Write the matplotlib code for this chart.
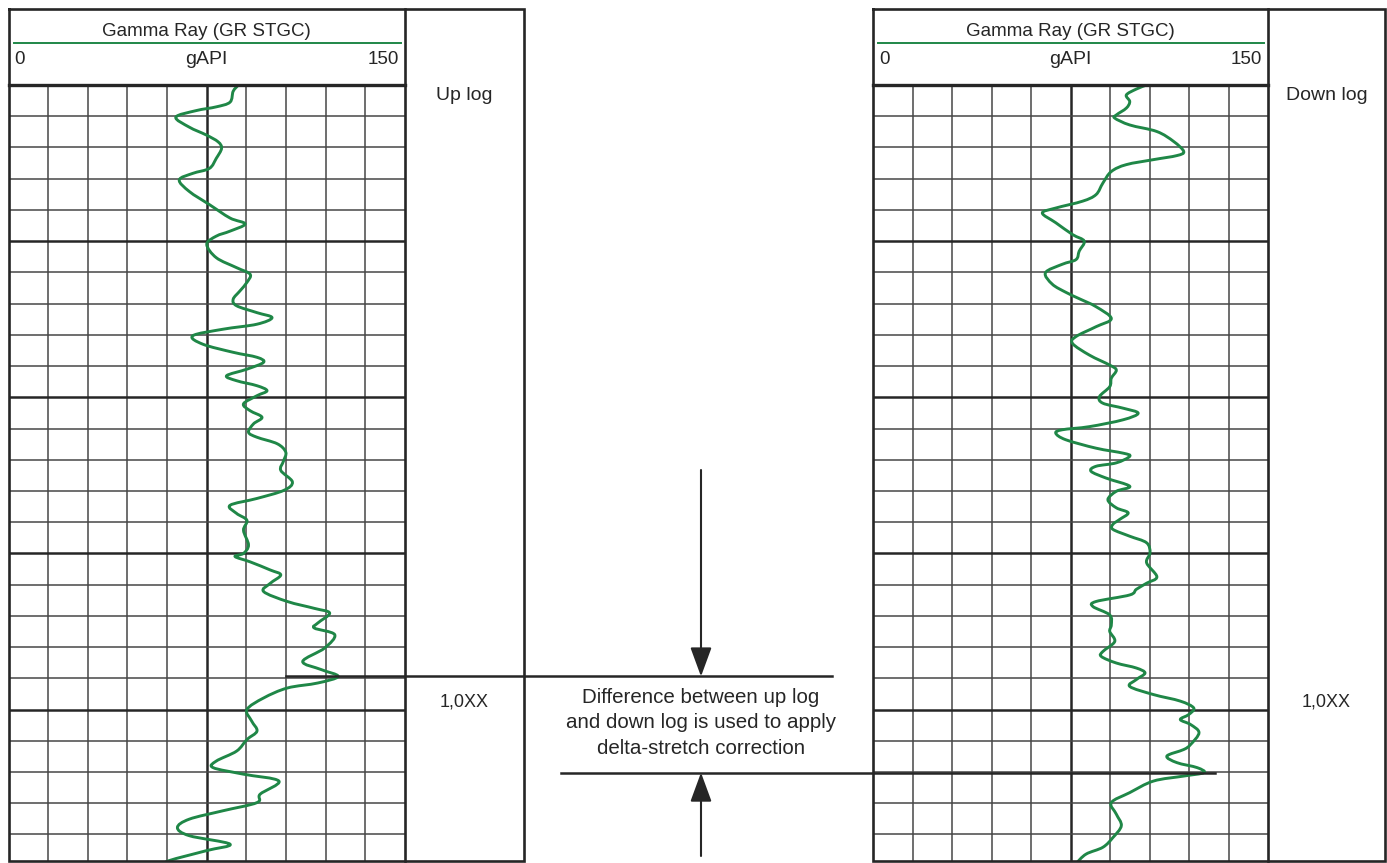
import matplotlib
matplotlib.use("Agg")
import matplotlib.pyplot as plt
from matplotlib.path import Path
from matplotlib.patches import PathPatch
import numpy as np

# ---------------- data ----------------
# depth expressed in grid rows below the top of the track; GR in gAPI
up_depth = [0.0, 0.2, 0.55, 0.7, 0.82, 1.03, 1.35, 1.6, 1.82, 2.03, 2.35, 2.67, 2.83, 3.04,
            3.41, 3.83, 4.26, 4.45, 4.68, 4.84, 5.1, 5.53, 5.85, 6.06, 6.32, 6.59, 6.86, 7.07,
            7.29, 7.45, 7.66, 7.82, 8.03, 8.3, 8.56, 8.72, 8.88, 9.1, 9.31, 9.47, 9.63, 9.79,
            9.95, 10.21, 10.43, 10.64, 10.85, 11.12, 11.28, 11.49, 11.76, 12.05, 12.34, 12.71,
            12.98, 13.24, 13.46, 13.72, 13.94, 14.26, 14.73, 15.0, 15.1, 15.27, 15.53, 15.69,
            15.96, 16.22, 16.54, 16.76, 16.91, 17.23, 17.39, 17.6, 18.03, 18.46, 18.72, 18.94,
            19.15, 19.31, 19.63, 20.0, 20.37, 20.69, 20.96, 21.33, 21.65, 21.86, 22.07, 22.29,
            22.71, 22.98, 23.24, 23.51, 23.78, 24.04, 24.31, 24.52, 24.84, 25.0]
up_gr = [87, 85, 83.8, 78.6, 71, 63.3, 68.4, 74.8, 79.3, 80.6, 78.6, 76, 69.7, 64.6,
         68.4, 76, 83.8, 89.5, 83.8, 78.6, 75, 78.6, 86.3, 91.4, 90.2, 87.6, 85, 86.3,
         94, 99.7, 94, 81.2, 69.7, 73.5, 85, 94, 96.5, 90.2, 82.5, 86.3, 94, 97.8,
         94, 88.9, 91.4, 95.9, 92.7, 90.8, 94, 101.7, 104.9, 104, 103, 107.4,
         104.2, 94, 83.8, 86.3, 90.2, 88.9, 90.8, 88.9, 85.7, 91.4, 99, 103,
         99, 96.5, 105.5, 115.7, 121.5, 117, 115.7, 123.4, 119.6, 111.3, 118.3, 124.7,
         117, 105.5, 96.5, 90.2, 92, 94, 90.2, 86.3, 78.6, 77.4, 88.9, 102.3,
         95.2, 94, 81.2, 68.4, 63.9, 68.4, 83.8, 74.8, 60.7, 58]

down_depth = [0.0, 0.13, 0.32, 0.53, 0.74, 0.96, 1.06, 1.28, 1.49, 1.81, 2.13, 2.26, 2.39,
              2.55, 2.77, 3.14, 3.51, 3.72, 3.94, 4.1, 4.41, 4.79, 5.0, 5.32, 5.59, 5.74,
              6.01, 6.38, 6.65, 6.85, 7.1, 7.48, 7.74, 8.06, 8.28, 8.65, 8.97, 9.13, 9.39,
              9.66, 9.98, 10.19, 10.35, 10.51, 10.72, 10.94, 11.04, 11.15, 11.36, 11.63,
              11.79, 11.89, 12.1, 12.21, 12.37, 12.59, 12.85, 13.01, 13.28, 13.54, 13.7,
              13.91, 14.07, 14.23, 14.45, 14.66, 14.98, 15.3, 15.75, 15.95, 16.15, 16.33,
              16.54, 16.7, 16.97, 17.29, 17.5, 17.82, 18.14, 18.3, 18.51, 18.67, 18.83,
              19.04, 19.26, 19.52, 19.73, 19.95, 20.16, 20.32, 20.48, 20.74, 21.12, 21.28,
              21.49, 21.7, 21.86, 22.02, 22.13, 22.29, 22.66, 22.98, 23.35, 23.72, 24.1,
              24.41, 24.63, 24.93]
down_gr = [103.9, 100, 96.2, 97.5, 96.2, 92.4, 91.8, 97.5, 107.8, 114.2, 118, 115.4, 106.5,
           96.2, 90.5, 87.3, 84.7, 79.6, 69.4, 64.3, 69.4, 75.8, 80.2, 78.3, 77.1, 71.9,
           65.5, 68.1, 73.5, 78.5, 84.7, 90.5, 84.7, 77, 75.8, 82.2, 89.9, 92.4, 90.5,
           89.9, 86, 87.3, 95, 100.7, 95, 82.2, 71.9, 69.4, 73.2, 84.7,
           95, 97.5, 92.4, 84.7, 82.8, 88.6, 97.5, 92.4, 89.2, 92.4, 96.9,
           93.7, 91.1, 91.1, 97.5, 103.9, 105.2, 103.9, 107.8, 104, 100, 97.5,
           84.7, 83.5, 89.9, 90.5, 89.9, 91.8, 87.3, 86.7, 92.4, 100, 103.3,
           100, 97.5, 106.5, 116.7, 121.8, 119.9, 116.7, 120.6, 123.8, 120.6, 118,
           111.6, 115.4, 123.1, 125.7, 118, 106.5, 97.5, 90.5, 92.4, 94.3, 91.1,
           87.3, 80.9, 77.1]

track_title = "Gamma Ray (GR STGC)"
track_unit = "gAPI"
scale_min, scale_max = 0, 150
panel_labels = ["Up log", "Down log"]
depth_label = "1,0XX"
note_lines = ["Difference between up log",
              "and down log is used to apply",
              "delta-stretch correction"]

# ---------------- styling / layout ----------------
W, H, DPI = 1387, 863, 100
plt.rcParams['font.family'] = ['Liberation Sans', 'DejaVu Sans']
GREEN = '#1f8747'
INK = '#262626'
GRID = '#474747'
N_ROWS = 24.85
TOP, HEAD_TOP, BOT = 85, 9, 861

fig = plt.figure(figsize=(W / DPI, H / DPI), dpi=DPI)
fig.patch.set_facecolor('white')


def px_axes(x0, y0, x1, y1, **kw):
    return fig.add_axes([x0 / W, 1 - y1 / H, (x1 - x0) / W, (y1 - y0) / H], **kw)


def smooth_path(xs, ys):
    """Catmull-Rom curve through every data point, drawn as cubic Bezier segments."""
    pts = np.column_stack([xs, ys]).astype(float)
    ext = np.vstack([pts[0], pts, pts[-1]])
    verts = [tuple(pts[0])]
    codes = [Path.MOVETO]
    for i in range(1, len(ext) - 2):
        p0, p1, p2, p3 = ext[i - 1], ext[i], ext[i + 1], ext[i + 2]
        c1 = p1 + (p2 - p0) / 6.0
        c2 = p2 - (p3 - p1) / 6.0
        verts += [tuple(c1), tuple(c2), tuple(p2)]
        codes += [Path.CURVE4] * 3
    return Path(verts, codes)


def make_track(x0, x1, depth, gr):
    ax = px_axes(x0, TOP, x1, BOT)
    ax.set_xlim(scale_min, scale_max)
    ax.set_ylim(N_ROWS, 0)
    step = (scale_max - scale_min) / 10
    for i in range(1, 10):
        major = (i == 5)
        ax.axvline(scale_min + i * step, color=INK if major else GRID,
                   lw=1.8 if major else 1.1, zorder=1)
    for r in range(1, int(N_ROWS) + 1):
        major = (r % 5 == 0)
        ax.axhline(r, color=INK if major else GRID, lw=1.8 if major else 1.1, zorder=1)
    patch = PathPatch(smooth_path(gr, depth), facecolor='none', edgecolor=GREEN,
                      lw=2.1, zorder=5, joinstyle='round', capstyle='round')
    ax.add_patch(patch)
    ax.set_xticks([])
    ax.set_yticks([])
    for s in ax.spines.values():
        s.set_visible(False)
    return ax


panels = [
    dict(x0=8.5, x1=405, xd=524, depth=up_depth, gr=up_gr, label=panel_labels[0]),
    dict(x0=873, x1=1268, xd=1385, depth=down_depth, gr=down_gr, label=panel_labels[1]),
]
for p in panels:
    p['ax'] = make_track(p['x0'], p['x1'], p['depth'], p['gr'])

# overlay in pixel coordinates for frames, headers and annotation
ov = fig.add_axes([0, 0, 1, 1])
ov.set_xlim(0, W)
ov.set_ylim(H, 0)
ov.axis('off')
ov.patch.set_alpha(0)


def to_px(ax, x, y):
    dx, dy = ax.transData.transform((x, y))
    return dx, H - dy


FRAME_LW = 1.9
for p in panels:
    x0, x1, xd = p['x0'], p['x1'], p['xd']
    ov.plot([x0, xd, xd, x0, x0], [HEAD_TOP, HEAD_TOP, BOT, BOT, HEAD_TOP],
            color=INK, lw=FRAME_LW, solid_joinstyle='miter')
    ov.plot([x1, x1], [HEAD_TOP, BOT], color=INK, lw=FRAME_LW)
    ov.plot([x0, x1], [TOP, TOP], color=INK, lw=2.4)
    xc = (x0 + x1) / 2
    ov.text(xc, 32, track_title, ha='center', va='center', fontsize=13.5, color=INK)
    ov.plot([x0 + 5, x1 - 4], [43.5, 43.5], color=GREEN, lw=1.4)
    ov.text(x0 + 6, 59, str(scale_min), ha='left', va='center', fontsize=13.5, color=INK)
    ov.text(xc, 59, track_unit, ha='center', va='center', fontsize=14, color=INK)
    ov.text(x1 - 6, 59, str(scale_max), ha='right', va='center', fontsize=13.5, color=INK)
    xdc = (x1 + xd) / 2
    ov.text(xdc, 96, p['label'], ha='center', va='center', fontsize=14, color=INK)
    ov.text(xdc, 702, depth_label, ha='center', va='center', fontsize=13, color=INK)

# marker lines at the matching peak of each log
up_i = int(np.argmax(up_gr))
dn_i = int(np.argmax(down_gr))
ax_up, ax_dn = panels[0]['ax'], panels[1]['ax']
ux, uy = to_px(ax_up, 105, up_depth[up_i])
dx, dy = to_px(ax_dn, 130, down_depth[dn_i])
MID_X = 701
ov.plot([ux, 832], [uy, uy], color=INK, lw=1.8, zorder=6)
ov.plot([561, dx], [dy, dy], color=INK, lw=1.8, zorder=6)

arrow_style = '-|>,head_length=0.6,head_width=0.22'
ov.annotate('', xy=(MID_X, uy), xytext=(MID_X, 470),
            arrowprops=dict(arrowstyle=arrow_style, color=INK, lw=1.5,
                            mutation_scale=30, shrinkA=0, shrinkB=0))
ov.annotate('', xy=(MID_X, dy), xytext=(MID_X, 856),
            arrowprops=dict(arrowstyle=arrow_style, color=INK, lw=1.5,
                            mutation_scale=30, shrinkA=0, shrinkB=0))

for i, line in enumerate(note_lines):
    ov.text(MID_X, 697 + i * 25.5, line, ha='center', va='center', fontsize=14.8, color=INK)

fig.savefig('out.png', dpi=DPI, facecolor='white')
